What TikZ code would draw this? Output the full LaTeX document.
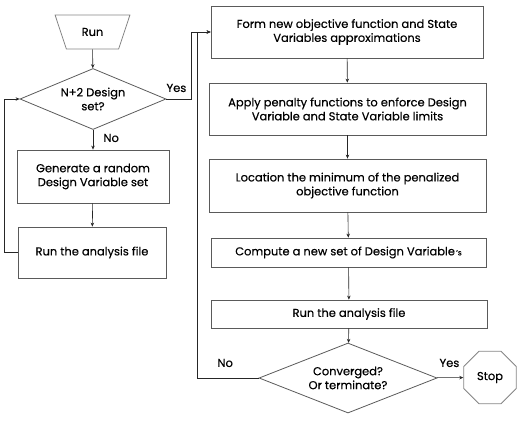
\documentclass[tikz,border=0pt]{standalone}
\usepackage{fontspec}
\setmainfont{Poppins}[FakeBold=0.4]
\usetikzlibrary{shapes.geometric,arrows.meta}
\definecolor{boxline}{HTML}{5A5A5A}
\definecolor{termline}{HTML}{858585}
\begin{document}
\begin{tikzpicture}[x=1bp,y=-1bp,
    >={Stealth[length=4bp,width=3.5bp]},
    every node/.style={font=\fontsize{11.5}{14}\selectfont},
    stepbox/.style={draw=boxline,line width=0.8bp,align=center,inner sep=2bp},
    testbox/.style={draw=boxline,line width=0.8bp,diamond,align=center,inner sep=0bp,aspect=2.4},
    flow/.style={draw=black!85,line width=0.6bp}]
  \useasboundingbox (0,0) rectangle (528,423);

  % left column
  \node (run) at (92.5,32) [draw=termline,line width=0.8bp,trapezium,shape border rotate=180,
      trapezium stretches=true,minimum width=75bp,minimum height=34bp,inner sep=0bp]{Run};
  \node (ndes) at (93,99) [testbox,minimum width=146bp,minimum height=61bp]{N+2 Design\\set?};
  \node (gen) at (93,176.5) [stepbox,minimum width=152bp,minimum height=53bp]{Generate a random\\Design Variable set};
  \node (runa) at (92,252.5) [stepbox,minimum width=148bp,minimum height=51bp]{Run the analysis file};
  \coordinate (loopa) at (4,0);

  \node (no1) at (100,138) [anchor=west]{No};
  \node (yes1) at (163,88) [anchor=west]{Yes};
  \coordinate (yesx) at (191,0);

  % right column
  \node (form) at (347,32) [stepbox,minimum width=272bp,minimum height=52bp]{Form new objective function and State\\Variables approximations};
  \node (apply) at (347.5,109) [stepbox,minimum width=277bp,minimum height=52bp]{Apply penalty functions to enforce Design\\Variable and State Variable limits};
  \node (locate) at (347.5,185.5) [stepbox,minimum width=277bp,minimum height=53bp]{Location the minimum of the penalized\\objective function};
  \node (comp) at (348.5,252.5) [stepbox,minimum width=275bp,minimum height=29bp]{Compute a new set of Design Variable{\fontsize{7.5}{8}\selectfont\,'s}};
  \node (runb) at (349,314) [stepbox,minimum width=276bp,minimum height=28bp]{Run the analysis file};
  \node (conv) at (348,378) [testbox,minimum width=178bp,minimum height=70bp]{Converged?\\Or terminate?};
  \node (stop) at (490,377.5) [draw=termline,line width=0.8bp,regular polygon,regular polygon sides=8,
      minimum size=57bp,inner sep=0bp]{Stop};
  \coordinate (nox) at (197,0);

  \node (no2) at (214,363) [anchor=west]{No};
  \node (yes2) at (436,363) [anchor=west]{Yes};

  \draw[flow,->] (run) -- (ndes);
  \draw[flow,->] (ndes) -- (gen);
  \draw[flow,->] (gen) -- (runa);
  \draw[flow,->] (runa.west) -- (runa.west -| loopa) |- (ndes.west);
  \draw[flow,->] (ndes.east) -- (ndes.east -| yesx) |- (form.west);

  \draw[flow,->] (form) -- (apply);
  \draw[flow,->] (apply) -- (locate);
  \draw[flow,->] (locate) -- (comp);
  \draw[flow,->] (comp) -- (runb);
  \draw[flow,->] (runb) -- (conv);
  \draw[flow,->] (conv.west) -- (conv.west -| nox) |- (form.west);
  \draw[flow,->] (conv) -- (stop);

\end{tikzpicture}
\end{document}
